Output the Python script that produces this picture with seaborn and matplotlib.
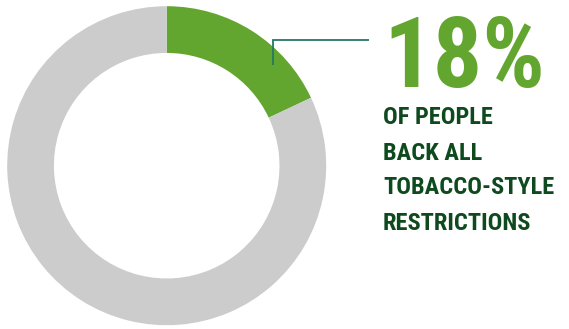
import matplotlib
matplotlib.use("Agg")
import matplotlib.pyplot as plt
import seaborn as sns
from matplotlib import font_manager as fm
from matplotlib.font_manager import FontProperties
from matplotlib.textpath import TextPath
from matplotlib.lines import Line2D

# ---- data ----
categories = ["Back all tobacco-style restrictions", "Others"]
shares = [18, 82]
big_label = "18%"
caption_lines = ["OF PEOPLE", "BACK ALL", "TOBACCO-STYLE", "RESTRICTIONS"]

# ---- colours ----
green = "#63a62f"
grey = "#cccccc"
dark_green = "#0f4a1f"
teal = "#237a63"

sns.set_theme(style="white")

W, H, DPI = 569, 329, 100
fig = plt.figure(figsize=(W / DPI, H / DPI), dpi=DPI)
fig.patch.set_facecolor("white")

# donut axes: centre (166.7,165.7) px from top-left, radius 159.5 px
cx, cy, r = 166.7, 165.7, 159.5
ax = fig.add_axes([(cx - r) / W, (H - cy - r) / H, 2 * r / W, 2 * r / H])
ax.pie(shares, colors=[green, grey], startangle=90, counterclock=False,
       radius=1.0, wedgeprops=dict(width=0.293, edgecolor="none", linewidth=0))
ax.set_xlim(-1, 1)
ax.set_ylim(-1, 1)
ax.set_aspect("equal")
ax.axis("off")

# connector line (figure pixel positions)
def fx(px):
    return px / W

def fy(py):
    return 1 - py / H

fig.add_artist(Line2D([fx(273), fx(273), fx(369)], [fy(65), fy(40), fy(40)],
                      transform=fig.transFigure, color=teal, lw=1.3,
                      solid_joinstyle="miter", solid_capstyle="butt"))

# ---- pick narrowest available bold font ----
ttf = fm.fontManager.ttflist
names = {f.name for f in ttf}
fp = None
for fam in ["Roboto Condensed", "Open Sans Condensed", "Liberation Sans Narrow",
            "Noto Sans Condensed"]:
    if fam in names:
        fp = FontProperties(family=fam, weight="bold")
        break
if fp is None:
    if any(f.name == "DejaVu Sans" and f.stretch == "condensed" for f in ttf):
        fp = FontProperties(family="DejaVu Sans", weight="bold", stretch="condensed")
    else:
        fp = FontProperties(family="DejaVu Sans", weight="bold")


def ink(s, prop):
    p = prop.copy()
    p.set_size(100)
    e = TextPath((0, 0), s, prop=p).get_extents()
    return e.x0 / 100, e.width / 100, e.height / 100


pt2px = DPI / 72.0


def place(s, left_px, width_px, centre_px, colour, size=None):
    x0, w1, h1 = ink(s, fp)
    if size is None:
        size = width_px / (w1 * pt2px)
    h_px = h1 * size * pt2px
    base = centre_px + h_px / 2
    p = fp.copy()
    p.set_size(size)
    fig.text(fx(left_px - x0 * size * pt2px), fy(base), s, fontproperties=p,
             color=colour, ha="left", va="baseline")
    return size


# big percentage
place(big_label, 391, 150, 51, green)

# caption, sized on widest line
widest = max(caption_lines, key=lambda s: ink(s, fp)[1])
_, wmax, _ = ink(widest, fp)
cap_size = 170 / (wmax * pt2px)
centres = [115.0, 150.8, 185.5, 221.0]
for line, c in zip(caption_lines, centres):
    place(line, 384, None, c, dark_green, size=cap_size)

fig.savefig("out.png", dpi=DPI, facecolor="white")
